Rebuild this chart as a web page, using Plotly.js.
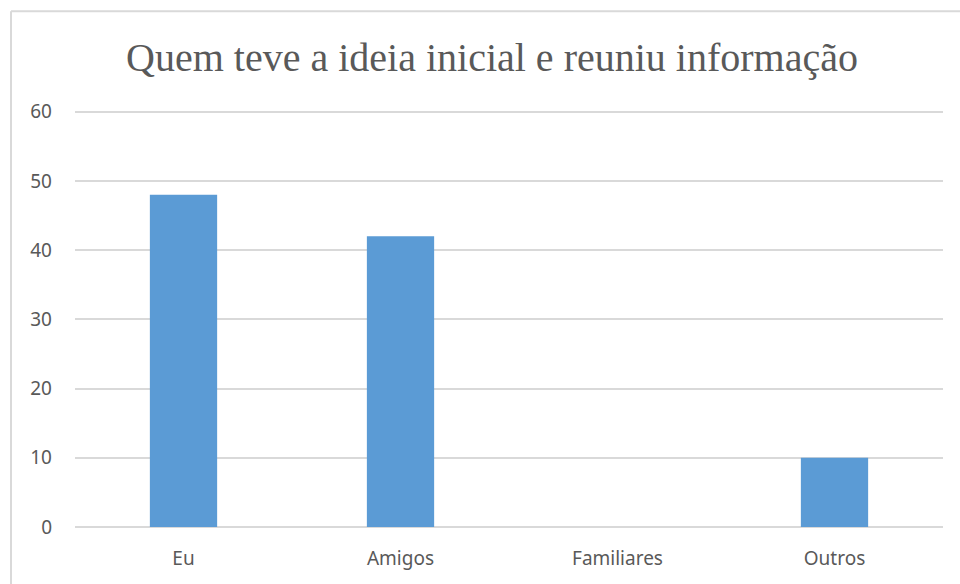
<!DOCTYPE html>
<html><head><meta charset="utf-8">
<script src="https://cdn.plot.ly/plotly-3.0.1.min.js"></script>
<style>html,body{margin:0;padding:0;background:#fff}#chart{width:960px;height:584px}</style>
</head><body><div id="chart"></div>
<script>
const categories = ["Eu", "Amigos", "Familiares", "Outros"];
const values = [48, 42, 0, 10];
const yTicks = [0, 10, 20, 30, 40, 50, 60];
const titleText = "Quem teve a ideia inicial e reuniu informação";

const L = 75, R = 17, T = 109.2, B = 57, W = 960, H = 584;
const pw = W - L - R, ph = H - T - B;
const bx = (11 - L) / pw, by = (H - B - 11.5) / ph;
const tickFont = {family: 'Noto Sans, Liberation Sans, Arial, sans-serif', size: 19, color: '#595959'};

Plotly.newPlot('chart', [{
  type: 'bar', x: categories, y: values,
  marker: {color: '#5b9bd5'}, hoverinfo: 'x+y'
}], {
  width: W, height: H,
  margin: {l: L, r: R, t: T, b: B},
  paper_bgcolor: '#fff', plot_bgcolor: '#fff',
  bargap: 0.69,
  title: {text: titleText, font: {family: 'Liberation Serif, Times New Roman, serif', size: 40, color: '#595959'},
    x: 492 / W, xanchor: 'center', y: 1 - 57 / H, yanchor: 'middle'},
  xaxis: {showgrid: false, showline: false, ticks: '', zeroline: false,
    tickfont: tickFont, ticklabelstandoff: 18},
  yaxis: {range: [0, 60.4], tickvals: yTicks, showgrid: true, gridcolor: '#d9d9d9', gridwidth: 1.5,
    zeroline: true, zerolinecolor: '#d9d9d9', zerolinewidth: 1.5, showline: false, ticks: '',
    tickfont: tickFont, ticklabelstandoff: 22},
  shapes: [
    {type: 'line', xref: 'paper', yref: 'paper', x0: bx, x1: bx, y0: -0.2, y1: by, line: {color: '#d9d9d9', width: 2}, layer: 'below'},
    {type: 'line', xref: 'paper', yref: 'paper', x0: bx, x1: 1.1, y0: by, y1: by, line: {color: '#d9d9d9', width: 2}, layer: 'below'}
  ],
  showlegend: false
}, {displayModeBar: false});
</script></body></html>
